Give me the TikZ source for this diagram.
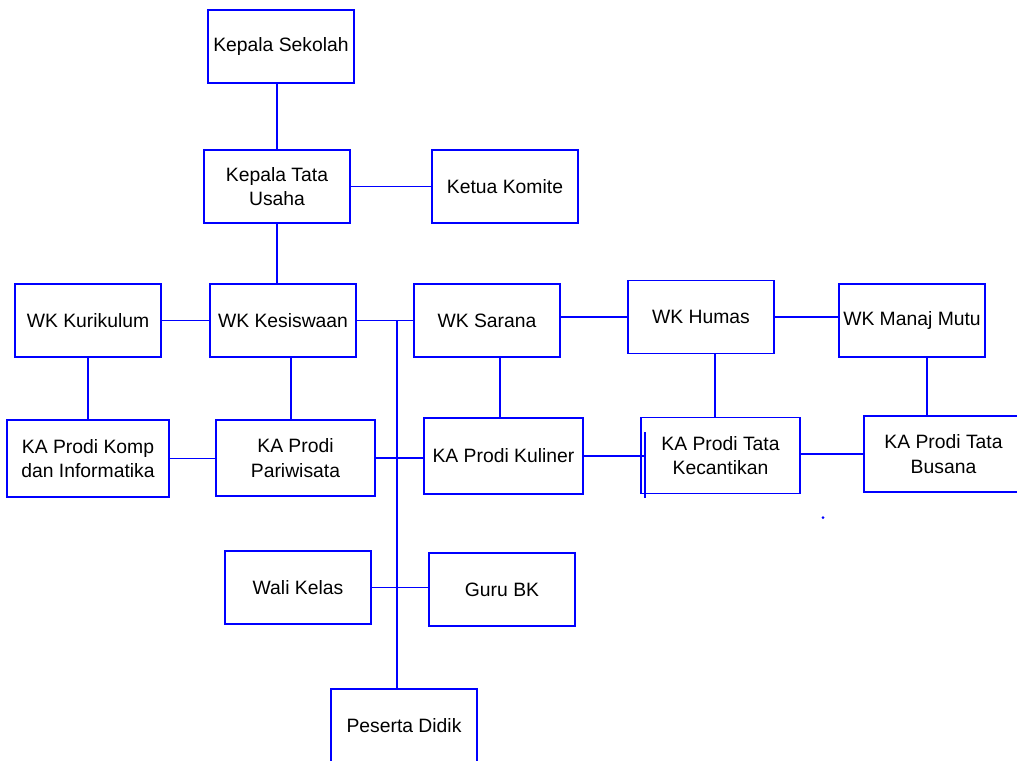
\documentclass[tikz,border=0pt]{standalone}
\usepackage{fontspec}
\setmainfont{Liberation Sans}
\usetikzlibrary{positioning}

\begin{document}
\begin{tikzpicture}[boxnode/.style={rectangle, draw=blue, line width=1.1pt, minimum width=2.92cm, minimum height=1.46cm, inner sep=1pt, outer sep=0pt, align=center, font=\fontsize{11}{14}\selectfont},
                    widenode/.style={boxnode, minimum width=3.18cm, minimum height=1.52cm},
                    link/.style={blue, line width=1.1pt}]
    \useasboundingbox (0,0) rectangle (20.34,-15.2);
    % nodes
    \node[boxnode]  (KS)                                              at (5.62,-0.93) {Kepala Sekolah};
    \node[boxnode]  (KTU)   [below=1.34cm of KS, xshift=-0.08cm]      {Kepala Tata\\Usaha};
    \node[boxnode]  (KOM)   [right=1.64cm of KTU]                     {Ketua Komite};
    \node[boxnode]  (KES)   [below=1.22cm of KTU, xshift=0.12cm]      {WK Kesiswaan};
    \node[boxnode]  (KUR)   [left=0.98cm of KES]                      {WK Kurikulum};
    \node[boxnode]  (SAR)   [right=1.16cm of KES]                     {WK Sarana};
    \node[boxnode]  (HUM)   [right=1.36cm of SAR, yshift=0.07cm]      {WK Humas};
    \node[boxnode]  (MUT)   [right=1.3cm of HUM, yshift=-0.07cm]      {WK Manaj Mutu};
    \node[boxnode, minimum width=3.24cm, minimum height=1.54cm] (KOMP) [below=1.26cm of KUR] {KA Prodi Komp\\dan Informatika};
    \node[widenode] (PAR)   [below=1.26cm of KES, xshift=0.25cm]      {KA Prodi\\Pariwisata};
    \node[widenode] (KUL)   [below=1.22cm of SAR, xshift=0.33cm]      {KA Prodi Kuliner};
    \node[widenode] (KEC)   [below=1.28cm of HUM, xshift=0.39cm]      {KA Prodi Tata\\Kecantikan};
    \node[widenode] (BUS)   [below=1.18cm of MUT, xshift=0.63cm]      {KA Prodi Tata\\Busana};
    \node[boxnode]  (WALI)  [below=1.1cm of PAR, xshift=0.05cm]       {Wali Kelas};
    \node[boxnode]  (BK)    [right=1.16cm of WALI, yshift=-0.04cm]    {Guru BK};
    \node[boxnode]  (PD)    [below=1.3cm of WALI, xshift=2.12cm]      {Peserta Didik};
    \coordinate[right=0.82cm of KES.east] (SP);
    % lines
    \draw[link] (KTU.north) -- (KTU.north |- KS.south);
    \draw[link] (KTU.east) -- (KOM.west);
    \draw[link] (KTU.south) -- (KTU.south |- KES.north);
    \draw[link] (KUR.east) -- (KES.west);
    \draw[link] (KES.east) -- (SAR.west);
    \draw[link] (SAR.east |- HUM.west) -- (HUM.west);
    \draw[link] (HUM.east) -- (HUM.east -| MUT.west);
    \draw[link] (SP) -- (SP |- PD.north);
    \draw[link] (KOMP.north) -- (KOMP.north |- KUR.south);
    \draw[link] ([xshift=-0.09cm]PAR.north) -- ([xshift=-0.09cm]PAR.north |- KES.south);
    \draw[link] ([xshift=-0.07cm]KUL.north) -- ([xshift=-0.07cm]KUL.north |- SAR.south);
    \draw[link] ([xshift=-0.11cm]KEC.north) -- ([xshift=-0.11cm]KEC.north |- HUM.south);
    \draw[link] ([xshift=-0.33cm]BUS.north) -- ([xshift=-0.33cm]BUS.north |- MUT.south);
    \draw[link] (KOMP.east) -- (KOMP.east -| PAR.west);
    \draw[link] (PAR.east) -- (PAR.east -| KUL.west);
    \draw[link] (KUL.east) -- ([xshift=0.08cm]KUL.east -| KEC.west);
    \draw[link] ([xshift=0.08cm,yshift=-0.08cm]KEC.south west) -- ([xshift=0.08cm,yshift=-0.28cm]KEC.north west);
    \draw[link] (BUS.west) -- (BUS.west -| KEC.east);
    \draw[link] (WALI.east) -- (WALI.east -| BK.west);
    \fill[blue] ([xshift=0.46cm,yshift=-0.48cm]KEC.south east) circle (0.03cm);
\end{tikzpicture}
\end{document}
